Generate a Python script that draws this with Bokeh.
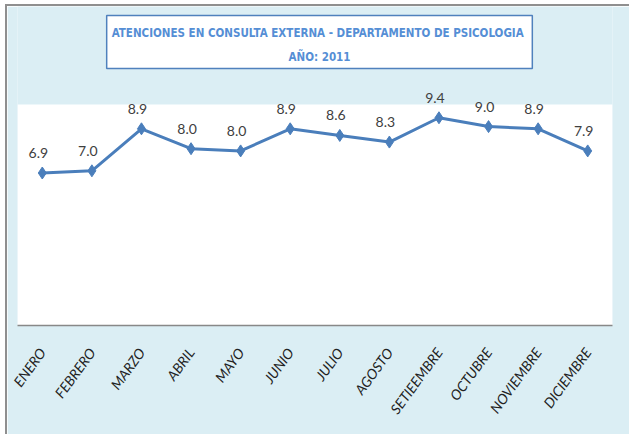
from bokeh.plotting import figure
from bokeh.models import ColumnDataSource, LabelSet, Label, FactorRange, Range1d, BoxAnnotation
from bokeh.core.properties import value
from bokeh.embed import file_html
from bokeh.resources import INLINE

months = ["ENERO", "FEBRERO", "MARZO", "ABRIL", "MAYO", "JUNIO", "JULIO",
          "AGOSTO", "SETIEEMBRE", "OCTUBRE", "NOVIEMBRE", "DICIEMBRE"]
values = [6.9, 7.0, 8.9, 8.0, 7.9, 8.9, 8.6, 8.3, 9.4, 9.0, 8.9, 7.9]
labels = ["6.9", "7.0", "8.9", "8.0", "8.0", "8.9", "8.6", "8.3", "9.4", "9.0", "8.9", "7.9"]
title_line1 = "ATENCIONES  EN CONSULTA EXTERNA - DEPARTAMENTO DE PSICOLOGIA"
title_line2 = "AÑO: 2011"
y_max = 10

FONT = "Lato"
TFONT = "DejaVu Sans Condensed"
W, H = 624, 430
MB = 111                 # bottom border (px)
FB = H - MB              # frame height: frame spans from canvas top to axis
PLOT_H = 221             # height of the white plotting area (px)
PPU = PLOT_H / y_max     # px per unit

src = ColumnDataSource(dict(month=months, value=values, label=labels))

p = figure(width=W, height=H, output_backend="svg", toolbar_location=None,
           x_range=FactorRange(*months, range_padding=0), y_range=Range1d(0, FB / PPU),
           min_border_left=10, min_border_right=19, min_border_top=0, min_border_bottom=MB)
p.styles = {"margin-left": "5px", "margin-top": "4px",
            "border-left": "2px solid #8f8f8f", "border-top": "2px solid #8f8f8f"}
p.background_fill_color = "#DBEEF4"
p.border_fill_color = "#DBEEF4"
p.outline_line_color = None
p.xgrid.visible = False
p.ygrid.visible = False
p.yaxis.visible = False

# white plotting area (0 .. y_max)
p.add_layout(BoxAnnotation(bottom=0, top=y_max, fill_color="white", fill_alpha=1,
                           line_color=None, level="underlay"))

ax = p.xaxis[0]
ax.axis_line_color = "#888888"
ax.axis_line_width = 1.5
ax.major_tick_line_color = None
ax.minor_tick_line_color = None
ax.major_label_orientation = 0.94
ax.major_label_text_font = FONT
ax.major_label_text_font_style = "italic"
ax.major_label_text_font_size = "14px"
ax.major_label_text_color = "#222222"
ax.major_label_standoff = 18

p.line("month", "value", source=src, line_color="#4A7EBB", line_width=3)
p.scatter("month", "value", source=src, marker="diamond", size=12,
          fill_color="#4A7EBB", line_color="#4A7EBB")

p.add_layout(LabelSet(x="month", y="value", text="label", source=src,
                      x_offset=-4, y_offset=20, text_align="center", text_baseline="middle",
                      text_font=value(FONT), text_font_size=value("14px"), text_color="#404040"))

# title box: padded box centred on its anchor
p.add_layout(Label(x=302, y=(FB - 35.5) / PPU, x_units="screen", text=title_line1,
                   text_align="center", text_baseline="middle", text_font=TFONT,
                   text_font_style="bold", text_font_size="11.5px", text_color="#558ED5",
                   background_fill_color="white", border_line_color="#4F81BD", border_line_width=1.5,
                   padding=(5, 5, 10, 29)))
p.add_layout(Label(x=302, y=(FB - 50) / PPU, x_units="screen", text=title_line2,
                   text_align="center", text_baseline="middle", text_font=TFONT,
                   text_font_style="bold", text_font_size="11.5px", text_color="#558ED5"))

open("out.html", "w").write(file_html(p, INLINE))
